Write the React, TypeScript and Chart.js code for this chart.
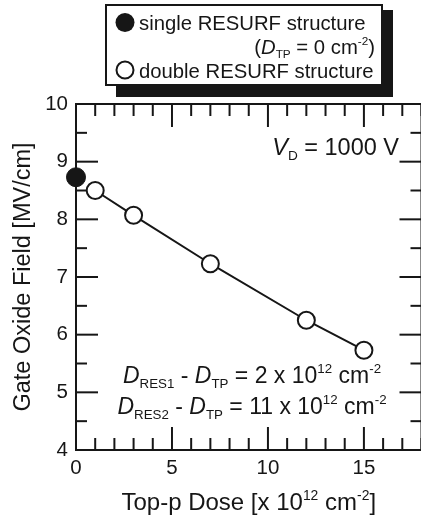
import React, { useEffect, useRef } from "react";
import { Chart, registerables } from "chart.js";

Chart.register(...registerables);

// ---- data ----
const singleDose = [0];
const singleField = [8.73];
const doubleDose = [1, 3, 7, 12, 15];
const doubleField = [8.5, 8.07, 7.23, 6.25, 5.73];

const xMin = 0;
const xMax = 18;
const yMin = 4;
const yMax = 10;
const xStep = 5;
const yStep = 1;

const yTitle = "Gate Oxide Field [MV/cm]";
const legendSingle = "single RESURF structure";
const legendDouble = "double RESURF structure";

type Seg = { t: string; k?: "i" | "sub" | "sup" };

const legendNote: Seg[] = [
  { t: "(" },
  { t: "D", k: "i" },
  { t: "TP", k: "sub" },
  { t: " = 0 cm" },
  { t: "-2", k: "sup" },
  { t: ")" },
];
const vdNote: Seg[] = [{ t: "V", k: "i" }, { t: "D", k: "sub" }, { t: " = 1000 V" }];
const res1Note: Seg[] = [
  { t: "D", k: "i" },
  { t: "RES1", k: "sub" },
  { t: " - " },
  { t: "D", k: "i" },
  { t: "TP", k: "sub" },
  { t: " = 2 x 10" },
  { t: "12", k: "sup" },
  { t: " cm" },
  { t: "-2", k: "sup" },
];
const res2Note: Seg[] = [
  { t: "D", k: "i" },
  { t: "RES2", k: "sub" },
  { t: " - " },
  { t: "D", k: "i" },
  { t: "TP", k: "sub" },
  { t: " = 11 x 10" },
  { t: "12", k: "sup" },
  { t: " cm" },
  { t: "-2", k: "sup" },
];
const xTitle: Seg[] = [
  { t: "Top-p Dose [x 10" },
  { t: "12", k: "sup" },
  { t: " cm" },
  { t: "-2", k: "sup" },
  { t: "]" },
];

const FONT = '"Liberation Sans", Arial, Helvetica, sans-serif';
const INK = "#161616";

function segFont(s: Seg, size: number) {
  const small = s.k === "sub" || s.k === "sup";
  const sz = small ? size * 0.58 : size;
  return `${s.k === "i" ? "italic " : ""}${sz}px ${FONT}`;
}

function richWidth(ctx: CanvasRenderingContext2D, segs: Seg[], size: number) {
  let w = 0;
  for (const s of segs) {
    ctx.font = segFont(s, size);
    w += ctx.measureText(s.t).width;
  }
  return w;
}

function drawRich(
  ctx: CanvasRenderingContext2D,
  segs: Seg[],
  x: number,
  y: number,
  size: number,
  align: "left" | "center" | "right"
) {
  const w = richWidth(ctx, segs, size);
  let cx = align === "left" ? x : align === "center" ? x - w / 2 : x - w;
  ctx.textAlign = "left";
  ctx.textBaseline = "alphabetic";
  ctx.fillStyle = INK;
  for (const s of segs) {
    ctx.font = segFont(s, size);
    let dy = 0;
    if (s.k === "sub") dy = size * 0.2;
    if (s.k === "sup") dy = -size * 0.42;
    ctx.fillText(s.t, cx, y + dy);
    cx += ctx.measureText(s.t).width;
  }
}

function line(ctx: CanvasRenderingContext2D, x1: number, y1: number, x2: number, y2: number) {
  ctx.beginPath();
  ctx.moveTo(x1, y1);
  ctx.lineTo(x2, y2);
  ctx.stroke();
}

const framePlugin = {
  id: "framePlugin",
  beforeDatasetsDraw(chart: any) {
    const { ctx, chartArea } = chart;
    const { left, right, top, bottom } = chartArea;
    const xs = chart.scales.x;
    const ys = chart.scales.y;
    ctx.save();
    ctx.strokeStyle = INK;
    ctx.lineWidth = 2;
    ctx.strokeRect(left, top, right - left, bottom - top);
    for (let v = xMin; v <= xMax; v++) {
      const px = xs.getPixelForValue(v);
      const len = v % xStep === 0 ? 23 : 12;
      line(ctx, px, bottom, px, bottom - len);
      line(ctx, px, top, px, top + len);
    }
    for (let k = yMin * 2; k <= yMax * 2; k++) {
      const py = ys.getPixelForValue(k / 2);
      const len = k % 2 === 0 ? 22 : 11;
      line(ctx, left, py, left + len, py);
      line(ctx, right, py, right - len, py);
    }
    ctx.restore();
  },
  afterDraw(chart: any) {
    const { ctx, chartArea } = chart;
    ctx.save();
    // legend box with shadow
    ctx.fillStyle = INK;
    ctx.fillRect(116, 10, 393 - 116, 97 - 10);
    ctx.fillStyle = "#fff";
    ctx.fillRect(105, 4, 383 - 105, 86 - 4);
    ctx.strokeStyle = INK;
    ctx.lineWidth = 2;
    ctx.strokeRect(106, 5, 382 - 106, 85 - 5);
    // legend markers
    ctx.beginPath();
    ctx.arc(125, 22.5, 9.5, 0, Math.PI * 2);
    ctx.fillStyle = INK;
    ctx.fill();
    ctx.beginPath();
    ctx.arc(125, 70, 8.5, 0, Math.PI * 2);
    ctx.fillStyle = "#fff";
    ctx.fill();
    ctx.lineWidth = 2;
    ctx.stroke();
    drawRich(ctx, [{ t: legendSingle }], 139, 30, 20.3, "left");
    drawRich(ctx, legendNote, 375, 54, 20.3, "right");
    drawRich(ctx, [{ t: legendDouble }], 139, 78, 20.3, "left");

    // annotations
    drawRich(ctx, vdNote, 399, 155, 23.5, "right");
    drawRich(ctx, res1Note, 252, 383, 23, "center");
    drawRich(ctx, res2Note, 252, 414, 23, "center");

    // x title
    drawRich(ctx, xTitle, (chartArea.left + chartArea.right) / 2, 510, 24, "center");
    ctx.restore();
  },
};

export default function App() {
  const ref = useRef<HTMLCanvasElement | null>(null);

  useEffect(() => {
    if (!ref.current) return;
    const chart = new Chart(ref.current, {
      type: "scatter",
      data: {
        datasets: [
          {
            label: legendSingle,
            data: singleDose.map((x, i) => ({ x, y: singleField[i] })),
            showLine: false,
            pointRadius: 9.5,
            pointBackgroundColor: INK,
            pointBorderColor: INK,
            pointBorderWidth: 1,
            clip: false,
          } as any,
          {
            label: legendDouble,
            data: doubleDose.map((x, i) => ({ x, y: doubleField[i] })),
            showLine: true,
            borderColor: INK,
            borderWidth: 2,
            pointRadius: 8.5,
            pointBackgroundColor: "#fff",
            pointBorderColor: INK,
            pointBorderWidth: 2,
            clip: false,
          } as any,
        ],
      },
      options: {
        responsive: false,
        animation: false,
        devicePixelRatio: 1,
        layout: { padding: { left: 0, top: 104, right: 9, bottom: 0 } },
        plugins: { legend: { display: false }, tooltip: { enabled: false } },
        scales: {
          x: {
            type: "linear",
            min: xMin,
            max: xMax,
            grid: { display: false, drawTicks: false },
            border: { display: false },
            ticks: {
              stepSize: xStep,
              includeBounds: false,
              padding: 6,
              color: INK,
              font: { family: FONT, size: 20.5 },
            },
            afterFit(s: any) {
              s.height = 70;
            },
          },
          y: {
            type: "linear",
            min: yMin,
            max: yMax,
            grid: { display: false, drawTicks: false },
            border: { display: false },
            ticks: {
              stepSize: yStep,
              padding: 8,
              color: INK,
              font: { family: FONT, size: 20.5 },
            },
            title: {
              display: true,
              text: yTitle,
              color: INK,
              font: { family: FONT, size: 23.5 },
              padding: { top: 9, bottom: 0 },
            },
            afterFit(s: any) {
              s.width = 76;
            },
          },
        },
      } as any,
      plugins: [framePlugin],
    });
    return () => chart.destroy();
  }, []);

  return (
    <div
      style={{
        position: "absolute",
        left: 0,
        top: 0,
        width: 421,
        height: 520,
        overflow: "hidden",
        background: "#fff",
      }}
    >
      <canvas ref={ref} width={432} height={520} style={{ display: "block", width: 432, height: 520 }} />
    </div>
  );
}
